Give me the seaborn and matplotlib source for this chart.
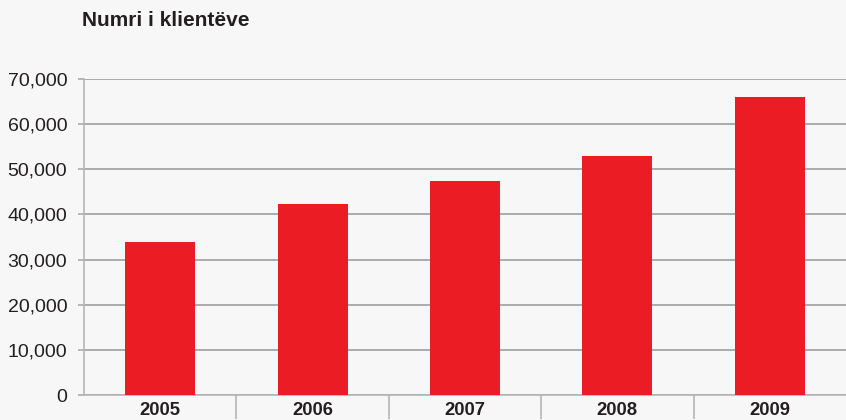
import matplotlib
matplotlib.use("Agg")
import matplotlib.pyplot as plt
import seaborn as sns
import pandas as pd
from matplotlib.ticker import FuncFormatter, FixedLocator

years = ["2005", "2006", "2007", "2008", "2009"]
clients = [33900, 42300, 47400, 52900, 66000]
title = "Numri i klientëve"
yticks = [0, 10000, 20000, 30000, 40000, 50000, 60000, 70000]

sns.set_theme(style="white")
plt.rcParams['font.family'] = ['Liberation Sans', 'DejaVu Sans']

bg = "#f7f7f7"
grid_c = "#ababab"
red = "#ec1c24"
txt = "#231f20"

fig = plt.figure(figsize=(8.46, 4.2), dpi=100, facecolor=bg)
ax = fig.add_axes([84/846, 25/420, 762/846, 316/420], facecolor=bg)

df = pd.DataFrame({"year": years, "clients": clients})
sns.barplot(data=df, x="year", y="clients", color=red, saturation=1,
            width=0.46, linewidth=0, edgecolor=red, ax=ax, zorder=3)

ax.set_ylim(0, 70000)
ax.set_xlim(-0.5, len(years) - 0.5)
ax.set_yticks(yticks)
ax.yaxis.set_major_formatter(FuncFormatter(lambda v, p: f"{int(v):,}"))
ax.grid(axis="y", color=grid_c, linewidth=1.4, zorder=0)
ax.set_axisbelow(True)
ax.set_xlabel("")
ax.set_ylabel("")

for s in ["top", "right"]:
    ax.spines[s].set_visible(False)
for s in ["left", "bottom"]:
    ax.spines[s].set_color("#b5b5b5")
    ax.spines[s].set_linewidth(1.2)

ax.tick_params(axis="y", length=4, width=1.2, color=grid_c, pad=8,
               labelsize=14, labelcolor=txt, left=True)
ax.tick_params(axis="x", which="major", length=0, pad=5, labelsize=13.3, labelcolor=txt)
ax.xaxis.set_minor_locator(FixedLocator([0.5, 1.5, 2.5, 3.5]))
ax.tick_params(axis="x", which="minor", length=17, width=1.2, color="#b5b5b5",
               direction="out", bottom=True)
for lab in ax.get_xticklabels():
    lab.set_fontweight("bold")

fig.text(82/846, 1 - 21/420, title, fontsize=15, fontweight="bold",
         color=txt, va="center", ha="left")

fig.savefig("out.png", dpi=100, facecolor=bg)
